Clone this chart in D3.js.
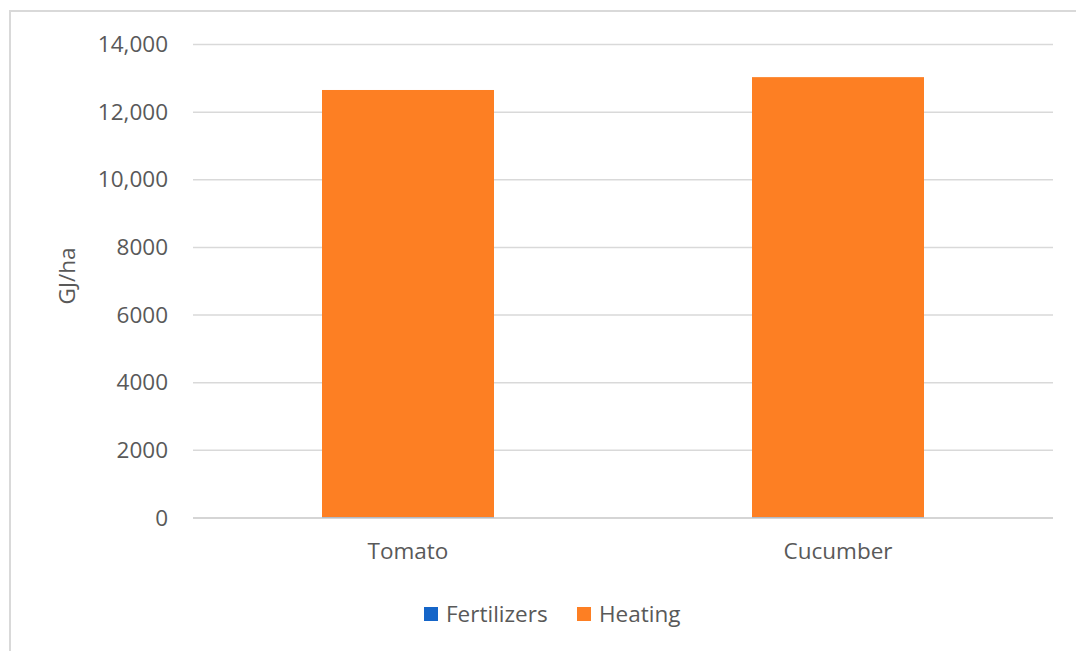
<!DOCTYPE html>
<html>
<head>
<meta charset="utf-8">
<script src="https://cdn.jsdelivr.net/npm/d3@7"></script>
<style>
  html, body { margin: 0; padding: 0; background: #fff; }
  svg { display: block; }
</style>
</head>
<body>
<svg id="chart" width="1076" height="651"></svg>
<script>
// Energy input per hectare for greenhouse crops
const categories = ["Tomato", "Cucumber"];
const seriesNames = ["Fertilizers", "Heating"];
const fertilizers = [25, 25];
const heating = [12630, 13010];
const yTicks = [0, 2000, 4000, 6000, 8000, 10000, 12000, 14000];
const yTickLabels = ["0", "2000", "4000", "6000", "8000", "10,000", "12,000", "14,000"];
const colors = ["#1565c8", "#fd7f23"];

const svg = d3.select("#chart");
const font = "'Open Sans', 'Segoe UI', sans-serif";
const fontSize = 22.5;
const textColor = "#595959";

// outer frame of the chart area
svg.append("rect")
  .attr("x", 10).attr("y", 11)
  .attr("width", 1200).attr("height", 800)
  .attr("fill", "none")
  .attr("stroke", "#d9d9d9")
  .attr("stroke-width", 2);

const plot = { left: 193, right: 1053, top: 44.5, bottom: 518 };

const x = d3.scaleBand()
  .domain(categories)
  .range([plot.left, plot.right])
  .paddingInner(0.6)
  .paddingOuter(0.3);

const y = d3.scaleLinear()
  .domain([0, 14000])
  .range([plot.bottom, plot.top]);

// gridlines
svg.append("g")
  .selectAll("line")
  .data(yTicks)
  .join("line")
  .attr("x1", plot.left).attr("x2", plot.right)
  .attr("y1", d => y(d)).attr("y2", d => y(d))
  .attr("stroke", "#d9d9d9")
  .attr("stroke-width", 1.5);

// y axis labels
const yAxis = d3.axisLeft(y)
  .tickValues(yTicks)
  .tickFormat((d, i) => yTickLabels[i])
  .tickSize(0)
  .tickPadding(25);
const yg = svg.append("g")
  .attr("transform", `translate(${plot.left},0)`)
  .call(yAxis);
yg.select(".domain").remove();
yg.selectAll("text")
  .attr("font-family", font)
  .attr("font-size", fontSize)
  .attr("fill", textColor);

// stacked bars
const rows = categories.map((c, i) => ({ cat: c, Fertilizers: fertilizers[i], Heating: heating[i] }));
const stacked = d3.stack().keys(seriesNames)(rows);

svg.append("g")
  .selectAll("g")
  .data(stacked)
  .join("g")
  .attr("fill", (d, i) => colors[i])
  .selectAll("rect")
  .data(d => d)
  .join("rect")
  .attr("x", d => x(d.data.cat))
  .attr("width", x.bandwidth())
  .attr("y", d => y(d[1]))
  .attr("height", d => y(d[0]) - y(d[1]));

// baseline
svg.append("line")
  .attr("x1", plot.left).attr("x2", plot.right)
  .attr("y1", y(0)).attr("y2", y(0))
  .attr("stroke", "#d0d0d0")
  .attr("stroke-width", 1.5);

// x axis labels
const xAxis = d3.axisBottom(x).tickSize(0).tickPadding(25);
const xg = svg.append("g")
  .attr("transform", `translate(0,${plot.bottom})`)
  .call(xAxis);
xg.select(".domain").remove();
xg.selectAll("text")
  .attr("font-family", font)
  .attr("font-size", fontSize)
  .attr("fill", textColor);

// y axis title
svg.append("text")
  .attr("transform", `translate(75,276) rotate(-90)`)
  .attr("text-anchor", "middle")
  .attr("font-family", font)
  .attr("font-size", fontSize)
  .attr("fill", textColor)
  .text("GJ/ha");

// legend
const legendItems = [
  { name: seriesNames[0], color: colors[0], x: 424 },
  { name: seriesNames[1], color: colors[1], x: 577 }
];
const lg = svg.append("g");
legendItems.forEach(item => {
  lg.append("rect")
    .attr("x", item.x).attr("y", 607)
    .attr("width", 14).attr("height", 14)
    .attr("fill", item.color);
  lg.append("text")
    .attr("x", item.x + 22).attr("y", 622)
    .attr("font-family", font)
    .attr("font-size", fontSize)
    .attr("fill", textColor)
    .text(item.name);
});
</script>
</body>
</html>
